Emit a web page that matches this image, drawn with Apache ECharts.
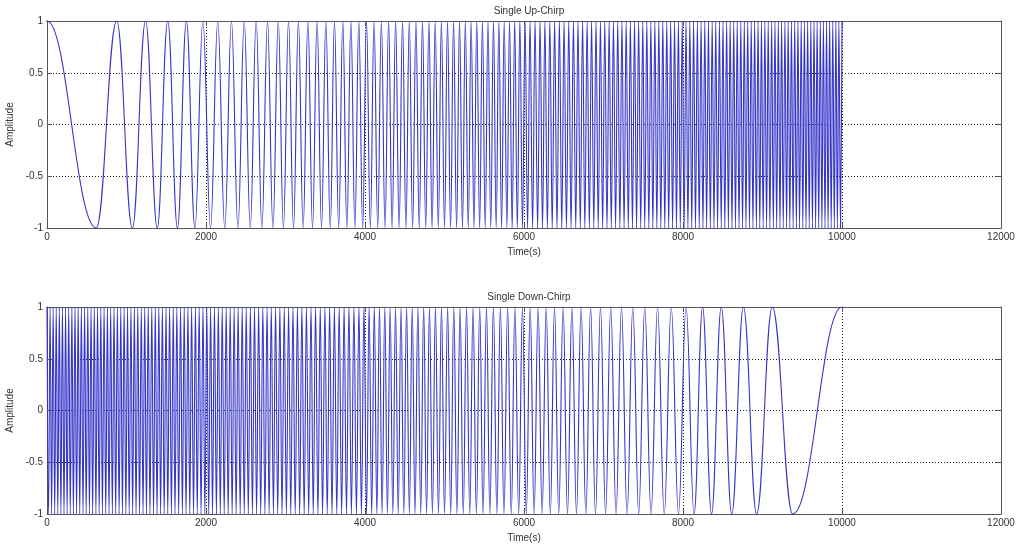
<!DOCTYPE html>
<html>
<head>
<meta charset="utf-8">
<script src="https://cdn.jsdelivr.net/npm/echarts@6/dist/echarts.min.js"></script>
<style>
  html, body { margin: 0; padding: 0; background: #fff; }
  #chart { width: 1017px; height: 547px; }
</style>
</head>
<body>
<div id="chart"></div>
<script>
// peak / trough times (s) of the up-chirp
// (first entry sits just left of the axis and is clipped: it keeps the start flat at 1)
const upTimes = [
  -20, 0, 620, 877, 1074, 1240, 1387, 1519, 1641, 1754, 1861, 1961, 2057, 2148, 2236, 2320, 2402, 2481, 2557, 2631, 2703,
  2774, 2842, 2909, 2974, 3038, 3101, 3162, 3222, 3282, 3340, 3397, 3453, 3508, 3563, 3616, 3669, 3721, 3772, 3823, 3873,
  3922, 3971, 4019, 4067, 4114, 4160, 4206, 4252, 4297, 4341, 4385, 4429, 4472, 4515, 4557, 4599, 4641, 4682, 4723, 4764,
  4804, 4844, 4883, 4922, 4961, 5000, 5038, 5076, 5114, 5152, 5189, 5226, 5262, 5299, 5335, 5371, 5406, 5442, 5477, 5512,
  5547, 5582, 5616, 5650, 5684, 5718, 5751, 5785, 5818, 5851, 5883, 5916, 5948, 5981, 6013, 6045, 6076, 6108, 6139, 6171,
  6202, 6233, 6263, 6294, 6325, 6355, 6385, 6415, 6445, 6475, 6504, 6534, 6563, 6592, 6622, 6651, 6679, 6708, 6737, 6765,
  6794, 6822, 6850, 6878, 6906, 6934, 6961, 6989, 7016, 7044, 7071, 7098, 7125, 7152, 7179, 7206, 7232, 7259, 7285, 7312,
  7338, 7364, 7390, 7416, 7442, 7468, 7494, 7519, 7545, 7570, 7596, 7621, 7646, 7671, 7696, 7721, 7746, 7771, 7796, 7820,
  7845, 7869, 7894, 7918, 7942, 7966, 7990, 8014, 8038, 8062, 8086, 8110, 8133, 8157, 8181, 8204, 8227, 8251, 8274, 8297,
  8320, 8344, 8367, 8390, 8412, 8435, 8458, 8481, 8503, 8526, 8549, 8571, 8593, 8616, 8638, 8660, 8682, 8705, 8727, 8749,
  8771, 8792, 8814, 8836, 8858, 8880, 8901, 8923, 8944, 8966, 8987, 9008, 9030, 9051, 9072, 9093, 9115, 9136, 9157, 9178,
  9199, 9220, 9240, 9261, 9282, 9303, 9323, 9344, 9364, 9385, 9405, 9426, 9446, 9466, 9487, 9507, 9527, 9547, 9568, 9588,
  9608, 9628, 9648, 9668, 9687, 9707, 9727, 9747, 9766, 9786, 9806, 9825, 9845, 9864, 9884, 9903, 9923, 9942, 9961, 9981,
  10000
]

const upAmp = [
  1, 1, -1, 1, -1, 1, -1, 1, -1, 1, -1, 1, -1, 1, -1, 1, -1, 1, -1, 1, -1,
  1, -1, 1, -1, 1, -1, 1, -1, 1, -1, 1, -1, 1, -1, 1, -1, 1, -1, 1, -1,
  1, -1, 1, -1, 1, -1, 1, -1, 1, -1, 1, -1, 1, -1, 1, -1, 1, -1, 1, -1,
  1, -1, 1, -1, 1, -1, 1, -1, 1, -1, 1, -1, 1, -1, 1, -1, 1, -1, 1, -1,
  1, -1, 1, -1, 1, -1, 1, -1, 1, -1, 1, -1, 1, -1, 1, -1, 1, -1, 1, -1,
  1, -1, 1, -1, 1, -1, 1, -1, 1, -1, 1, -1, 1, -1, 1, -1, 1, -1, 1, -1,
  1, -1, 1, -1, 1, -1, 1, -1, 1, -1, 1, -1, 1, -1, 1, -1, 1, -1, 1, -1,
  1, -1, 1, -1, 1, -1, 1, -1, 1, -1, 1, -1, 1, -1, 1, -1, 1, -1, 1, -1,
  1, -1, 1, -1, 1, -1, 1, -1, 1, -1, 1, -1, 1, -1, 1, -1, 1, -1, 1, -1,
  1, -1, 1, -1, 1, -1, 1, -1, 1, -1, 1, -1, 1, -1, 1, -1, 1, -1, 1, -1,
  1, -1, 1, -1, 1, -1, 1, -1, 1, -1, 1, -1, 1, -1, 1, -1, 1, -1, 1, -1,
  1, -1, 1, -1, 1, -1, 1, -1, 1, -1, 1, -1, 1, -1, 1, -1, 1, -1, 1, -1,
  1, -1, 1, -1, 1, -1, 1, -1, 1, -1, 1, -1, 1, -1, 1, -1, 1, -1, 1, -1,
  1
]

// peak / trough times (s) of the down-chirp (last entry keeps the finish flat at 1)
const downTimes = [
  0, 19, 39, 58, 77, 97, 116, 136, 155, 175, 194, 214, 234, 253, 273, 293, 313, 332, 352, 372,
  392, 412, 432, 453, 473, 493, 513, 534, 554, 574, 595, 615, 636, 656, 677, 697, 718, 739, 760, 780,
  801, 822, 843, 864, 885, 907, 928, 949, 970, 992, 1013, 1034, 1056, 1077, 1099, 1120, 1142, 1164, 1186, 1208,
  1229, 1251, 1273, 1295, 1318, 1340, 1362, 1384, 1407, 1429, 1451, 1474, 1497, 1519, 1542, 1565, 1588, 1610, 1633, 1656,
  1680, 1703, 1726, 1749, 1773, 1796, 1819, 1843, 1867, 1890, 1914, 1938, 1962, 1986, 2010, 2034, 2058, 2082, 2106, 2131,
  2155, 2180, 2204, 2229, 2254, 2279, 2304, 2329, 2354, 2379, 2404, 2430, 2455, 2481, 2506, 2532, 2558, 2584, 2610, 2636,
  2662, 2688, 2715, 2741, 2768, 2794, 2821, 2848, 2875, 2902, 2929, 2956, 2984, 3011, 3039, 3066, 3094, 3122, 3150, 3178,
  3206, 3235, 3263, 3292, 3321, 3349, 3378, 3408, 3437, 3466, 3496, 3525, 3555, 3585, 3615, 3645, 3675, 3706, 3737, 3767,
  3798, 3829, 3861, 3892, 3924, 3955, 3987, 4019, 4052, 4084, 4117, 4149, 4182, 4215, 4249, 4282, 4316, 4350, 4384, 4418,
  4453, 4488, 4523, 4558, 4594, 4629, 4665, 4701, 4738, 4774, 4811, 4848, 4886, 4924, 4962, 5000, 5039, 5078, 5117, 5156,
  5196, 5236, 5277, 5318, 5359, 5401, 5443, 5485, 5528, 5571, 5615, 5659, 5703, 5748, 5794, 5840, 5886, 5933, 5981, 6029,
  6078, 6127, 6177, 6228, 6279, 6331, 6384, 6437, 6492, 6547, 6603, 6660, 6718, 6778, 6838, 6899, 6962, 7026, 7091, 7158,
  7226, 7297, 7369, 7443, 7519, 7598, 7680, 7764, 7852, 7943, 8039, 8139, 8246, 8359, 8481, 8613, 8760, 8926, 9123, 9380,
  10000, 10020
]

const downAmp = [
  1, -1, 1, -1, 1, -1, 1, -1, 1, -1, 1, -1, 1, -1, 1, -1, 1, -1, 1, -1,
  1, -1, 1, -1, 1, -1, 1, -1, 1, -1, 1, -1, 1, -1, 1, -1, 1, -1, 1, -1,
  1, -1, 1, -1, 1, -1, 1, -1, 1, -1, 1, -1, 1, -1, 1, -1, 1, -1, 1, -1,
  1, -1, 1, -1, 1, -1, 1, -1, 1, -1, 1, -1, 1, -1, 1, -1, 1, -1, 1, -1,
  1, -1, 1, -1, 1, -1, 1, -1, 1, -1, 1, -1, 1, -1, 1, -1, 1, -1, 1, -1,
  1, -1, 1, -1, 1, -1, 1, -1, 1, -1, 1, -1, 1, -1, 1, -1, 1, -1, 1, -1,
  1, -1, 1, -1, 1, -1, 1, -1, 1, -1, 1, -1, 1, -1, 1, -1, 1, -1, 1, -1,
  1, -1, 1, -1, 1, -1, 1, -1, 1, -1, 1, -1, 1, -1, 1, -1, 1, -1, 1, -1,
  1, -1, 1, -1, 1, -1, 1, -1, 1, -1, 1, -1, 1, -1, 1, -1, 1, -1, 1, -1,
  1, -1, 1, -1, 1, -1, 1, -1, 1, -1, 1, -1, 1, -1, 1, -1, 1, -1, 1, -1,
  1, -1, 1, -1, 1, -1, 1, -1, 1, -1, 1, -1, 1, -1, 1, -1, 1, -1, 1, -1,
  1, -1, 1, -1, 1, -1, 1, -1, 1, -1, 1, -1, 1, -1, 1, -1, 1, -1, 1, -1,
  1, -1, 1, -1, 1, -1, 1, -1, 1, -1, 1, -1, 1, -1, 1, -1, 1, -1, 1, -1,
  1, 1
]

const titles = ['Single Up-Chirp', 'Single Down-Chirp']
const yTickLabels = ['-1', '-0.5', '0', '0.5', '1']

const lineColor = '#3535c8'
const font = 'Liberation Sans, Arial, sans-serif'

const chartDom = document.getElementById('chart')
const myChart = echarts.init(chartDom, null, { renderer: 'canvas' })

const gridTops = [21, 307]

function mainX (gi) {
  return {
    gridIndex: gi,
    type: 'value',
    min: 0,
    max: 12000,
    interval: 2000,
    name: 'Time(s)',
    nameLocation: 'middle',
    nameGap: 19,
    nameTextStyle: { color: '#333', fontSize: 10, fontFamily: font },
    axisLine: { show: true, onZero: false, lineStyle: { color: '#555', width: 1 } },
    axisTick: { show: true, inside: true, length: 5, lineStyle: { color: '#555' } },
    axisLabel: {
      color: '#333', fontSize: 10, fontFamily: font, margin: 4,
      formatter: v => String(v)
    },
    splitLine: { show: true, lineStyle: { type: [1, 2], color: '#222', width: 1 } }
  }
}

function topX (gi) {
  return {
    gridIndex: gi,
    type: 'value',
    position: 'top',
    min: 0,
    max: 12000,
    interval: 2000,
    axisLine: { show: true, onZero: false, lineStyle: { color: '#555', width: 1 } },
    axisTick: { show: true, inside: true, length: 5, lineStyle: { color: '#555' } },
    axisLabel: { show: false },
    splitLine: { show: false }
  }
}

function leftY (gi) {
  return {
    gridIndex: gi,
    type: 'value',
    min: -1,
    max: 1,
    interval: 0.5,
    name: 'Amplitude',
    nameLocation: 'middle',
    nameGap: 29,
    nameRotate: 90,
    nameTextStyle: { color: '#333', fontSize: 10, fontFamily: font },
    axisLine: { show: true, onZero: false, lineStyle: { color: '#555', width: 1 } },
    axisTick: { show: true, inside: true, length: 5, lineStyle: { color: '#555' } },
    axisLabel: {
      color: '#333', fontSize: 10, fontFamily: font, margin: 4,
      formatter: function (v) {
        const i = Math.round((v + 1) / 0.5)
        return yTickLabels[i]
      }
    },
    splitLine: { show: true, lineStyle: { type: [1, 2], color: '#222', width: 1 } }
  }
}

function rightY (gi) {
  return {
    gridIndex: gi,
    type: 'value',
    position: 'right',
    min: -1,
    max: 1,
    interval: 0.5,
    axisLine: { show: true, onZero: false, lineStyle: { color: '#555', width: 1 } },
    axisTick: { show: true, inside: true, length: 5, lineStyle: { color: '#555' } },
    axisLabel: { show: false },
    splitLine: { show: false }
  }
}

const upData = upTimes.map((t, i) => [t, upAmp[i]])
const downData = downTimes.map((t, i) => [t, downAmp[i]])

const option = {
  animation: false,
  backgroundColor: '#fff',
  title: titles.map((txt, i) => ({
    text: txt,
    left: 524,
    textAlign: 'center',
    top: gridTops[i] - 20,
    textStyle: { color: '#333', fontSize: 10, fontWeight: 'normal', fontFamily: font }
  })),
  grid: gridTops.map(t => ({ left: 47, top: t, width: 954, height: 207, outerBoundsMode: 'none', containLabel: false })),
  xAxis: [mainX(0), topX(0), mainX(1), topX(1)],
  yAxis: [leftY(0), rightY(0), leftY(1), rightY(1)],
  series: [
    {
      name: titles[0],
      type: 'line',
      xAxisIndex: 0,
      yAxisIndex: 0,
      data: upData,
      showSymbol: false,
      smooth: 0.42,
      smoothMonotone: 'x',
      clip: true,
      lineStyle: { color: lineColor, width: 1.1 },
      z: 3
    },
    {
      name: titles[1],
      type: 'line',
      xAxisIndex: 2,
      yAxisIndex: 2,
      data: downData,
      showSymbol: false,
      smooth: 0.42,
      smoothMonotone: 'x',
      clip: true,
      lineStyle: { color: lineColor, width: 1.1 },
      z: 3
    }
  ]
}

option && myChart.setOption(option)
</script>
</body>
</html>
